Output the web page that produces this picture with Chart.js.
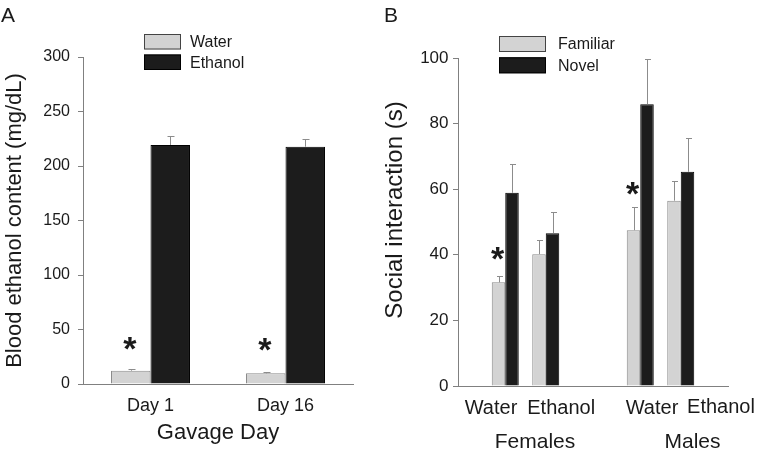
<!DOCTYPE html>
<html>
<head>
<meta charset="utf-8">
<script src="https://cdn.jsdelivr.net/npm/chart.js@4.4.0/dist/chart.umd.min.js"></script>
<style>
  body { margin: 0; background: #fff; }
  #wrap { position: relative; width: 757px; height: 453px; }
  canvas { position: absolute; top: 0; }
  #chartA { left: 0; }
  #chartB { left: 378px; }
</style>
</head>
<body>
<div id="wrap">
  <canvas id="chartA" width="378" height="453"></canvas>
  <canvas id="chartB" width="379" height="453"></canvas>
</div>
<script>
// ---- Panel A data: blood ethanol content ----
const gavageDays = ['Day 1', 'Day 16'];
const waterBec = [12.2, 9.8];
const waterBecErr = [1.5, 0.9];
const ethanolBec = [219.3, 217.7];
const ethanolBecErr = [8.2, 7.3];
const starsA = [40, 39];           // asterisk heights above the water bars

// ---- Panel B data: social interaction ----
const sexes = ['Females', 'Males'];
const treatments = ['Water', 'Ethanol'];
const familiarWater = [31.6, 47.5];
const familiarWaterErr = [1.9, 7.1];
const novelWater = [58.9, 85.9];
const novelWaterErr = [8.9, 13.7];
const familiarEthanol = [40.2, 56.5];
const familiarEthanolErr = [4.3, 6.0];
const novelEthanol = [46.6, 65.3];
const novelEthanolErr = [6.6, 10.2];
const starsB = [41.2, 61];         // asterisk heights above familiar/water bars

const FONT = '"Liberation Sans", Arial, sans-serif';
const GREY = '#d3d3d3';
const BLACK = '#1c1c1c';
const AXIS = '#808080';
const TEXT = '#1a1a1a';

Chart.defaults.font.family = FONT;
Chart.defaults.color = TEXT;

// draws error bars, asterisks, legend and free text
const extras = {
    id: 'extras',
    afterDatasetsDraw(chart, args, opts) {
        const ctx = chart.ctx;
        const y = chart.scales.y;
        ctx.save();
        ctx.strokeStyle = '#8c8c8c';
        ctx.lineWidth = 1;
        chart.data.datasets.forEach((ds, i) => {
            if (!ds.errors) return;
            chart.getDatasetMeta(i).data.forEach((bar, j) => {
                const top = Math.round(y.getPixelForValue(ds.data[j] + ds.errors[j])) + 0.5;
                const x = Math.round(bar.x) + 0.5;
                ctx.beginPath();
                ctx.moveTo(x, bar.y);
                ctx.lineTo(x, top);
                ctx.moveTo(x - opts.cap, top);
                ctx.lineTo(x + opts.cap + 1, top);
                ctx.stroke();
            });
        });
        ctx.restore();
    },
    afterDraw(chart, args, opts) {
        const ctx = chart.ctx;
        const y = chart.scales.y;
        const area = chart.chartArea;
        ctx.save();
        ctx.fillStyle = TEXT;

        // panel letter
        ctx.font = '21px ' + FONT;
        ctx.textAlign = 'left';
        ctx.textBaseline = 'alphabetic';
        ctx.fillText(opts.panel.text, opts.panel.x, opts.panel.y);

        // asterisks
        const st = opts.stars;
        ctx.font = 'bold ' + st.size + 'px ' + FONT;
        ctx.textAlign = 'center';
        chart.getDatasetMeta(st.dataset).data.forEach((bar, j) => {
            const cy = y.getPixelForValue(st.values[j]);
            ctx.fillText('*', bar.x + st.dx, cy + st.size * 0.57);
        });

        // legend
        const lg = opts.legend;
        lg.datasets.forEach((di, k) => {
            const ds = chart.data.datasets[di];
            const top = lg.y + k * lg.step;
            ctx.fillStyle = ds.backgroundColor;
            ctx.fillRect(lg.x, top, lg.w, lg.h);
            ctx.strokeStyle = lg.borders[k];
            ctx.lineWidth = 1;
            ctx.strokeRect(lg.x + 0.5, top + 0.5, lg.w - 1, lg.h - 1);
            ctx.fillStyle = TEXT;
            ctx.font = lg.size + 'px ' + FONT;
            ctx.textAlign = 'left';
            ctx.textBaseline = 'middle';
            ctx.fillText(ds.label, lg.textX, top + lg.h / 2 + 1);
        });

        // x group labels (panel B only)
        if (opts.groups) {
            const g = opts.groups;
            const xs = chart.scales.x;
            ctx.fillStyle = TEXT;
            ctx.textAlign = 'center';
            ctx.textBaseline = 'alphabetic';
            chart.data.labels.forEach((lab, i) => {
                const cx = xs.getPixelForValue(i);
                ctx.font = g.subSize + 'px ' + FONT;
                treatments.forEach((t, k) => {
                    ctx.fillText(t, cx + g.subDx[i][k], area.bottom + g.subDy[i][k]);
                });
                ctx.font = g.mainSize + 'px ' + FONT;
                ctx.fillText(lab, cx + g.mainDx[i], area.bottom + g.mainDy);
            });
        }

        // rotated y title (panel B only)
        if (opts.yTitle) {
            const t = opts.yTitle;
            ctx.translate(t.x, (area.top + area.bottom) / 2 + t.dy);
            ctx.rotate(-Math.PI / 2);
            ctx.font = t.size + 'px ' + FONT;
            ctx.textAlign = 'center';
            ctx.textBaseline = 'middle';
            ctx.fillText(t.text, 0, 0);
        }
        ctx.restore();
    }
};

// ---------- Panel A ----------
new Chart(document.getElementById('chartA'), {
    type: 'bar',
    data: {
        labels: gavageDays,
        datasets: [
            { label: 'Water', data: waterBec, errors: waterBecErr,
              backgroundColor: GREY, borderColor: '#8a8a8a', borderWidth: 1 },
            { label: 'Ethanol', data: ethanolBec, errors: ethanolBecErr,
              backgroundColor: BLACK, borderColor: '#000', borderWidth: 1 }
        ]
    },
    options: {
        responsive: false,
        animation: false,
        layout: { padding: { left: 0, right: 25, top: 57, bottom: 0 } },
        datasets: { bar: { categoryPercentage: 0.585, barPercentage: 1 } },
        scales: {
            x: {
                grid: { display: false },
                border: { color: AXIS },
                ticks: { font: { size: 18 }, padding: 3, color: TEXT },
                title: { display: true, text: 'Gavage Day', font: { size: 22 },
                         padding: { top: 0, bottom: 7 }, color: TEXT },
                afterFit: s => { s.height = 69; }
            },
            y: {
                min: 0, max: 300,
                ticks: { stepSize: 50, font: { size: 16 }, padding: 8, color: TEXT },
                grid: { drawOnChartArea: false, tickLength: 5, color: AXIS },
                border: { color: AXIS },
                title: { display: true, text: 'Blood ethanol content (mg/dL)',
                         font: { size: 22 }, padding: { top: 2, bottom: 0 }, color: TEXT },
                afterFit: s => { s.width = 83; }
            }
        },
        plugins: {
            legend: { display: false },
            tooltip: { enabled: false },
            extras: {
                cap: 3,
                panel: { text: 'A', x: 1, y: 22 },
                stars: { dataset: 0, values: starsA, size: 34, dx: -1 },
                legend: { datasets: [0, 1], x: 144, y: 34, w: 37, h: 15.5, step: 20.5,
                          textX: 190, size: 16, borders: ['#444', '#000'] }
            }
        }
    },
    plugins: [extras]
});

// ---------- Panel B ----------
new Chart(document.getElementById('chartB'), {
    type: 'bar',
    data: {
        labels: sexes,
        datasets: [
            { label: 'Familiar', data: familiarWater, errors: familiarWaterErr,
              backgroundColor: GREY, borderColor: '#8a8a8a', borderWidth: 1 },
            { label: 'Novel', data: novelWater, errors: novelWaterErr,
              backgroundColor: BLACK, borderColor: '#000', borderWidth: 1 },
            // empty slot that separates the water and ethanol pairs
            { label: '', data: [null, null], backgroundColor: 'rgba(0,0,0,0)' },
            { label: 'Familiar', data: familiarEthanol, errors: familiarEthanolErr,
              backgroundColor: GREY, borderColor: '#8a8a8a', borderWidth: 1 },
            { label: 'Novel', data: novelEthanol, errors: novelEthanolErr,
              backgroundColor: BLACK, borderColor: '#000', borderWidth: 1 }
        ]
    },
    options: {
        responsive: false,
        animation: false,
        layout: { padding: { left: 0, right: 29, top: 58, bottom: 0 } },
        datasets: { bar: { categoryPercentage: 0.5, barPercentage: 1 } },
        scales: {
            x: {
                grid: { display: false },
                border: { color: AXIS },
                ticks: { display: false },
                afterFit: s => { s.height = 67; }
            },
            y: {
                min: 0, max: 100,
                ticks: { stepSize: 20, font: { size: 17 }, padding: 4.5, color: TEXT },
                grid: { drawOnChartArea: false, tickLength: 5, color: AXIS },
                border: { color: AXIS },
                afterFit: s => { s.width = 80; }
            }
        },
        plugins: {
            legend: { display: false },
            tooltip: { enabled: false },
            extras: {
                cap: 2.5,
                panel: { text: 'B', x: 6, y: 22 },
                stars: { dataset: 0, values: starsB, size: 34, dx: -1 },
                legend: { datasets: [0, 1], x: 121, y: 36, w: 47, h: 16, step: 21.3,
                          textX: 180, size: 16, borders: ['#444', '#000'] },
                groups: {
                    subSize: 20, mainSize: 21,
                    subDx: [[-34.5, 35.7], [-8.5, 60.5]],
                    subDy: [[28, 28], [28, 26.5]],
                    mainDx: [9.5, 32], mainDy: 62
                },
                yTitle: { text: 'Social interaction (s)', size: 24, x: 17, dy: -12 }
            }
        }
    },
    plugins: [extras]
});
</script>
</body>
</html>
